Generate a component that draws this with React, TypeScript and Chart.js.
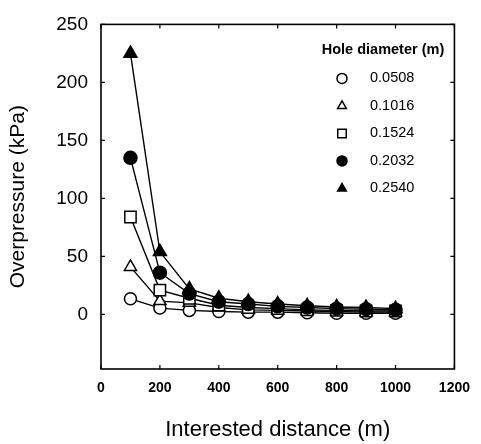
import React, { useEffect, useRef } from "react";
import { Chart, registerables } from "chart.js";
import { drawPoint } from "chart.js/helpers";

Chart.register(...registerables);

const distances = [100, 200, 300, 400, 500, 600, 700, 800, 900, 1000];
const seriesLabels = ["0.0508", "0.1016", "0.1524", "0.2032", "0.2540"];
const d0508 = [13.5, 5.5, 3.5, 2.5, 2, 2, 1.5, 1, 1, 1];
const d1016 = [41, 11.5, 10, 6, 4, 3.5, 3, 2.5, 2, 2];
const d1524 = [84, 21, 14, 8, 6, 5, 4, 3.5, 3, 3];
const d2032 = [135, 36, 18, 11, 9, 7, 6, 5, 4.5, 4];
const d2540 = [225, 54, 22, 14, 11, 9, 7.5, 6.5, 6, 5];
const xTicks = [0, 200, 400, 600, 800, 1000, 1200];
const yTicks = [0, 50, 100, 150, 200, 250];
const legendTitle = "Hole diameter (m)";
const xTitle = "Interested distance (m)";
const yTitle = "Overpressure (kPa)";

const seriesValues = [d0508, d1016, d1524, d2032, d2540];
const styles = [
  { pointStyle: "circle", filled: false, r: 6 },
  { pointStyle: "triangle", filled: false, r: 7 },
  { pointStyle: "rect", filled: false, r: 8 },
  { pointStyle: "circle", filled: true, r: 6.5 },
  { pointStyle: "triangle", filled: true, r: 7.5 },
];

const framePlugin = {
  id: "frameTicks",
  afterDraw(chart: any) {
    const { ctx, chartArea } = chart;
    const { left, right, top, bottom } = chartArea;
    const xs = chart.scales.x;
    const ys = chart.scales.y;
    ctx.save();
    ctx.strokeStyle = "#000";
    ctx.lineWidth = 1.6;
    ctx.strokeRect(left, top, right - left, bottom - top);
    ctx.lineWidth = 1.2;
    const L = 4;
    ctx.beginPath();
    xTicks.forEach((v) => {
      const px = xs.getPixelForValue(v);
      ctx.moveTo(px, bottom);
      ctx.lineTo(px, bottom - L);
      ctx.moveTo(px, top);
      ctx.lineTo(px, top + L);
    });
    yTicks.forEach((v) => {
      const py = ys.getPixelForValue(v);
      ctx.moveTo(left, py);
      ctx.lineTo(left + L, py);
      ctx.moveTo(right, py);
      ctx.lineTo(right - L, py);
    });
    ctx.stroke();

    // legend
    ctx.fillStyle = "#000";
    ctx.textBaseline = "middle";
    ctx.textAlign = "center";
    ctx.font = "bold 14.5px 'Liberation Sans', sans-serif";
    ctx.fillText(legendTitle, left + 282, top + 26);
    ctx.textAlign = "left";
    ctx.font = "14.5px 'Liberation Sans', sans-serif";
    seriesLabels.forEach((lab, i) => {
      const y = top + 54 + i * 27.5;
      const st = styles[i];
      ctx.fillStyle = st.filled ? "#000" : "#fff";
      ctx.strokeStyle = "#000";
      ctx.lineWidth = 1.5;
      drawPoint(ctx, { pointStyle: st.pointStyle, radius: st.pointStyle === "rect" ? 6 : 5, rotation: 0, borderWidth: 1.5 } as any, left + 241, y);
      ctx.fillStyle = "#000";
      ctx.fillText(lab, left + 269, y);
    });
    ctx.restore();
  },
};

export default function App() {
  const ref = useRef<HTMLCanvasElement | null>(null);
  useEffect(() => {
    if (!ref.current) return;
    const datasets = seriesLabels.map((lab, i) => ({
      label: lab,
      data: distances.map((d, j) => ({ x: d, y: seriesValues[i][j] })),
      borderColor: "#000",
      borderWidth: 1.4,
      pointStyle: styles[i].pointStyle,
      pointRadius: styles[i].r,
      pointBorderWidth: 1.5,
      pointBorderColor: "#000",
      pointBackgroundColor: styles[i].filled ? "#000" : "#fff",
      tension: 0,
      fill: false,
      order: 4 - i,
    }));
    const chart = new Chart(ref.current, {
      type: "line",
      data: { datasets },
      options: {
        animation: false,
        responsive: false,
        maintainAspectRatio: false,
        layout: { padding: { top: 19, right: 17, left: 0, bottom: 0 } },
        plugins: { legend: { display: false }, tooltip: { enabled: false } },
        scales: {
          x: {
            type: "linear",
            min: 0,
            max: 1200,
            afterBuildTicks: (s: any) => {
              s.ticks = xTicks.map((v) => ({ value: v }));
            },
            afterFit: (s: any) => {
              s.height = 75;
            },
            grid: { display: false, drawTicks: false },
            border: { display: false },
            ticks: {
              padding: 11,
              color: "#000",
              font: { family: "'Liberation Sans', sans-serif", size: 14, weight: "bold" },
              maxRotation: 0,
              callback: (v: any) => String(v),
            },
            title: {
              display: true,
              text: xTitle,
              color: "#000",
              font: { family: "'Liberation Sans', sans-serif", size: 22 },
              padding: { top: 0, bottom: 1 },
            },
          },
          y: {
            type: "linear",
            min: -47,
            max: 250,
            afterBuildTicks: (s: any) => {
              s.ticks = yTicks.map((v) => ({ value: v }));
            },
            afterFit: (s: any) => {
              s.width = 101;
            },
            grid: { display: false, drawTicks: false },
            border: { display: false },
            ticks: {
              padding: 13,
              color: "#000",
              font: { family: "'Liberation Sans', sans-serif", size: 19 },
              callback: (v: any) => String(v),
            },
            title: {
              display: true,
              text: yTitle,
              color: "#000",
              font: { family: "'Liberation Sans', sans-serif", size: 21 },
              padding: { top: 6, bottom: 0 },
            },
          },
        },
      },
      plugins: [framePlugin],
    });
    return () => chart.destroy();
  }, []);
  return (
    <div style={{ position: "absolute", left: 0, top: 0, width: 481, height: 444, background: "#fff" }}>
      <canvas ref={ref} width={481} height={444} style={{ width: 481, height: 444 }} />
    </div>
  );
}
